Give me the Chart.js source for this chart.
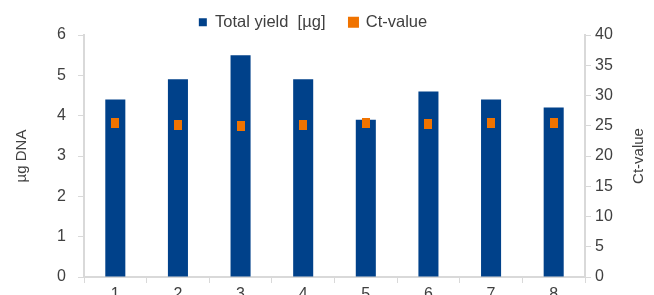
<!DOCTYPE html>
<html>
<head>
<meta charset="utf-8">
<script src="https://cdn.jsdelivr.net/npm/chart.js@4/dist/chart.umd.min.js"></script>
<style>
  html, body { margin: 0; padding: 0; background: #fff; overflow: hidden; }
  #wrap { width: 654px; height: 308px; }
</style>
</head>
<body>
<div id="wrap"><canvas id="dnaChart"></canvas></div>
<script>
const samples = ['1', '2', '3', '4', '5', '6', '7', '8'];
const totalYield = [4.4, 4.9, 5.5, 4.9, 3.9, 4.6, 4.4, 4.2];
const ctValues = [25.4, 25.2, 24.9, 25.2, 25.5, 25.3, 25.5, 25.5];
const yieldTicks = [0, 1, 2, 3, 4, 5, 6];
const ctTicks = [0, 5, 10, 15, 20, 25, 30, 35, 40];

const blue = '#00418a';
const orange = '#f07300';
const axisGray = '#d9d9d9';
const textGray = '#404040';

// small upright rectangle used as the Ct marker
const marker = document.createElement('canvas');
marker.width = 8;
marker.height = 10;
const mctx = marker.getContext('2d');
mctx.fillStyle = orange;
mctx.fillRect(0, 0, 8, 10);

Chart.defaults.font.family = '"Liberation Sans", Arial, sans-serif';
Chart.defaults.font.size = 16;
Chart.defaults.color = textGray;

// legend: wide gap between items but a short box, a bit left of centre
const legendTweak = {
    id: 'legendTweak',
    beforeLayout(chart) {
        const lg = chart.legend;
        if (lg && !lg._fixed) {
            const fit = lg.fit.bind(lg);
            lg.fit = function () { fit(); this.height = 35; };
            // draw without clipping to the (shifted) legend box
            lg.draw = function () {
                if (!this.options.display) return;
                this.ctx.save();
                this._draw();
                this.ctx.restore();
            };
            lg._fixed = true;
        }
    },
    afterLayout(chart) {
        const lg = chart.legend;
        lg.left -= 14;
        lg.right -= 14;
        lg.top = -10;
        lg.bottom = lg.top + 35;
    }
};

// right axis title reads bottom-to-top, so draw it by hand
const rightTitle = {
    id: 'rightTitle',
    afterDraw(chart) {
        const c = chart.ctx;
        const a = chart.chartArea;
        c.save();
        c.translate(639, (a.top + a.bottom) / 2);
        c.rotate(-Math.PI / 2);
        c.font = '15px "Liberation Sans", Arial, sans-serif';
        c.fillStyle = textGray;
        c.textAlign = 'center';
        c.textBaseline = 'middle';
        c.fillText('Ct-value', 0, 0);
        c.restore();
    }
};

const ctx = document.getElementById('dnaChart').getContext('2d');
const dnaChart = new Chart(ctx, {
    data: {
        labels: samples,
        datasets: [{
            type: 'bar',
            label: 'Total yield  [\u00b5g]',
            data: totalYield,
            backgroundColor: blue,
            yAxisID: 'y',
            barPercentage: 0.32,
            categoryPercentage: 1,
            order: 2
        }, {
            type: 'line',
            label: 'Ct-value',
            data: ctValues,
            yAxisID: 'y1',
            showLine: false,
            backgroundColor: orange,
            borderColor: orange,
            pointStyle: marker,
            order: 1
        }]
    },
    options: {
        responsive: true,
        maintainAspectRatio: false,
        animation: false,
        layout: { padding: 0 },
        plugins: {
            legend: {
                position: 'top',
                labels: {
                    boxWidth: 8,
                    boxHeight: 8,
                    padding: 24,
                    font: { size: 16.5 },
                    color: textGray,
                    sort: (a, b) => a.datasetIndex - b.datasetIndex
                }
            },
            tooltip: { enabled: false }
        },
        scales: {
            x: {
                grid: { offset: true, drawOnChartArea: false, tickLength: 6, color: axisGray },
                border: { color: axisGray, width: 2 },
                ticks: { padding: 2, color: textGray },
                afterFit: s => { s.height = 31; }
            },
            y: {
                position: 'left',
                min: 0,
                max: 6,
                afterBuildTicks: s => { s.ticks = yieldTicks.map(v => ({ value: v })); },
                grid: { drawOnChartArea: false, tickLength: 6, color: axisGray },
                border: { color: axisGray, width: 2 },
                ticks: { padding: 12, color: textGray },
                title: { display: true, text: '\u00b5g DNA', font: { size: 15 }, color: textGray, padding: { top: 13, bottom: 0 } },
                afterFit: s => { s.width = 84; }
            },
            y1: {
                position: 'right',
                min: 0,
                max: 40,
                afterBuildTicks: s => { s.ticks = ctTicks.map(v => ({ value: v })); },
                grid: { drawOnChartArea: false, tickLength: 6, color: axisGray },
                border: { color: axisGray, width: 2 },
                ticks: { padding: 4, color: textGray },
                afterFit: s => { s.width = 69; }
            }
        }
    },
    plugins: [legendTweak, rightTitle]
});
</script>
</body>
</html>
